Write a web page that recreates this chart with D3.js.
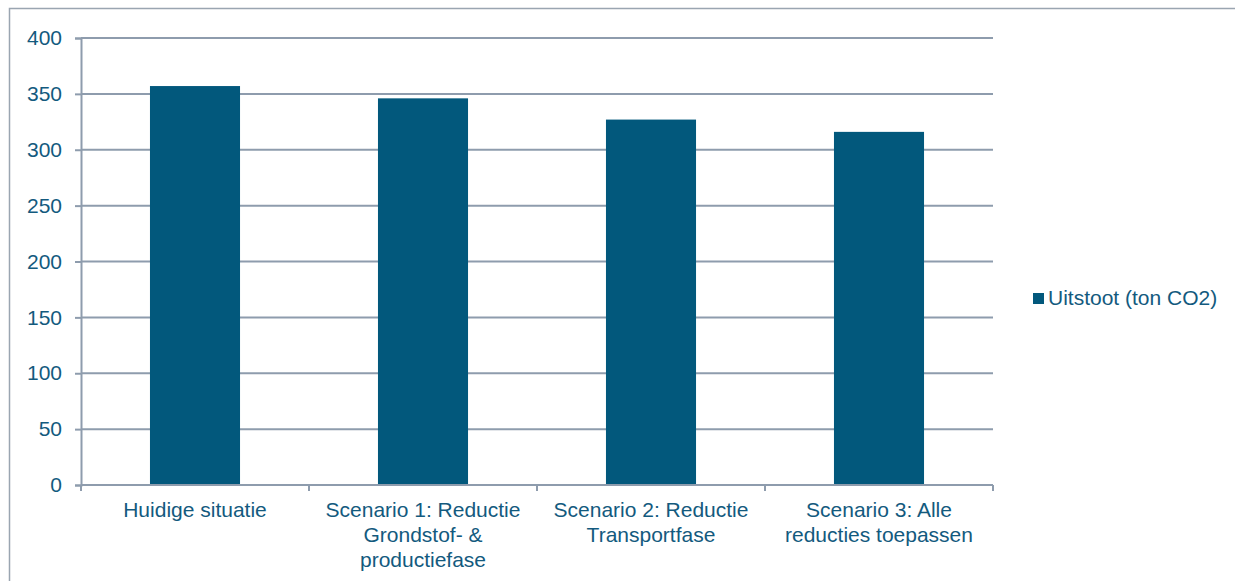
<!DOCTYPE html>
<html>
<head>
<meta charset="utf-8">
<script src="https://cdn.jsdelivr.net/npm/d3@7"></script>
<style>
  html, body { margin: 0; padding: 0; background: #fff; }
  svg { display: block; }
  text { font-family: "Liberation Sans", Arial, sans-serif; }
</style>
</head>
<body>
<svg id="chart" width="1235" height="581"></svg>
<script>
const categories = [
  ["Huidige situatie"],
  ["Scenario 1: Reductie", "Grondstof- &", "productiefase"],
  ["Scenario 2: Reductie", "Transportfase"],
  ["Scenario 3: Alle", "reducties toepassen"]
];
const values = [357, 346, 327, 316];
const yTicks = [0, 50, 100, 150, 200, 250, 300, 350, 400];
const seriesName = "Uitstoot (ton CO2)";

const W = 1235, H = 581;
const m = { left: 81, right: 993, top: 38, bottom: 485 };
const textColor = "#135a7e";
const barColor = "#02587c";
const gridColor = "#8e9cad";
const fontSize = 21;

const svg = d3.select("#chart");

// outer frame (right and bottom edges fall outside the picture)
svg.append("rect")
  .attr("x", 9.5).attr("y", 8.5)
  .attr("width", 1240).attr("height", 600)
  .attr("fill", "none").attr("stroke", "#9aa5b1").attr("stroke-width", 1.5);

const idx = categories.map((d, i) => i);
const x = d3.scaleBand().domain(idx).range([m.left, m.right])
  .paddingInner(0.605).paddingOuter(0.3025);
const y = d3.scaleLinear().domain([0, 400]).range([m.bottom, m.top]);

// gridlines
svg.append("g").selectAll("line").data(yTicks.filter(t => t > 0)).join("line")
  .attr("x1", m.left).attr("x2", m.right)
  .attr("y1", d => y(d)).attr("y2", d => y(d))
  .attr("stroke", gridColor).attr("stroke-width", 2);

// bars
svg.append("g").selectAll("rect").data(values).join("rect")
  .attr("x", (d, i) => x(i))
  .attr("y", d => y(d))
  .attr("width", x.bandwidth())
  .attr("height", d => y(0) - y(d))
  .attr("fill", barColor);

// y axis
const yAxis = d3.axisLeft(y).tickValues(yTicks).tickSize(6).tickPadding(13);
const gy = svg.append("g").attr("transform", `translate(${m.left},0)`).call(yAxis);
gy.select(".domain").attr("stroke", gridColor).attr("stroke-width", 2);
gy.selectAll(".tick line").attr("stroke", gridColor).attr("stroke-width", 2);
gy.selectAll(".tick text")
  .attr("fill", textColor).attr("font-size", fontSize)
  .style("font-family", '"Liberation Sans", Arial, sans-serif');

// x axis baseline with boundary ticks
const step = x.step();
const boundaries = d3.range(categories.length + 1).map(i => m.left + i * step);
svg.append("line")
  .attr("x1", m.left).attr("x2", m.right)
  .attr("y1", y(0)).attr("y2", y(0))
  .attr("stroke", gridColor).attr("stroke-width", 2);
svg.append("g").selectAll("line").data(boundaries).join("line")
  .attr("x1", d => d).attr("x2", d => d)
  .attr("y1", y(0)).attr("y2", y(0) + 6)
  .attr("stroke", gridColor).attr("stroke-width", 2);

// category labels
const lbl = svg.append("g").selectAll("text").data(categories).join("text")
  .attr("text-anchor", "middle")
  .attr("fill", textColor).attr("font-size", fontSize)
  .attr("x", (d, i) => x(i) + x.bandwidth() / 2)
  .attr("y", 517);
lbl.selectAll("tspan").data(d => d).join("tspan")
  .attr("x", function() { return d3.select(this.parentNode).attr("x"); })
  .attr("dy", (d, i) => i === 0 ? 0 : 25)
  .text(d => d);

// legend
const lg = svg.append("g").attr("transform", "translate(1033,293)");
lg.append("rect").attr("width", 11).attr("height", 11).attr("fill", barColor);
lg.append("text").attr("x", 15).attr("y", 12)
  .attr("fill", textColor).attr("font-size", fontSize)
  .text(seriesName);
</script>
</body>
</html>
